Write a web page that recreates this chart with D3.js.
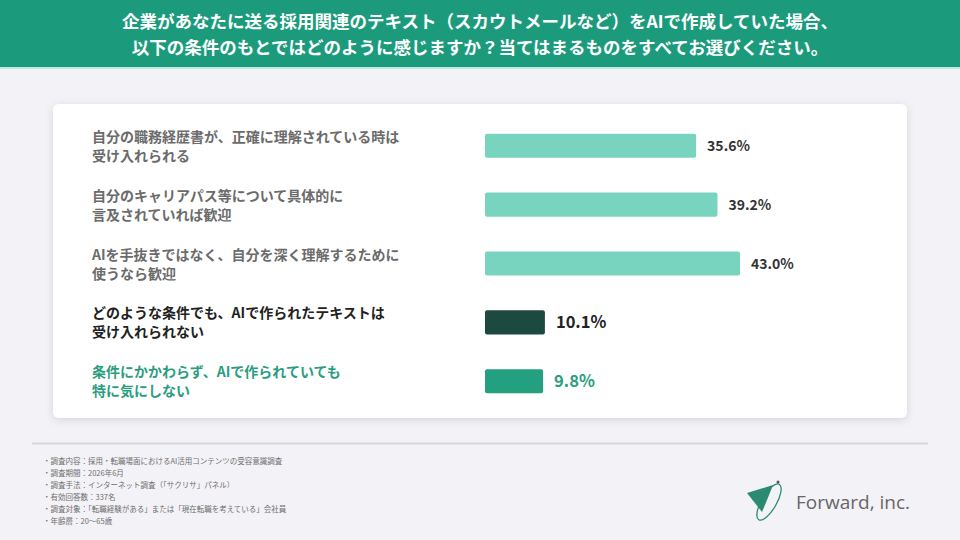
<!DOCTYPE html>
<html>
<head>
<meta charset="utf-8">
<script src="https://cdn.jsdelivr.net/npm/d3@7"></script>
<style>
  body { margin: 0; background: #f3f2f6; }
  svg { display: block; font-family: "Noto Sans CJK JP", "Noto Sans", sans-serif; }
</style>
</head>
<body>
<div id="chart"></div>
<script>
// data
const categories = [
  ["自分の職務経歴書が、正確に理解されている時は", "受け入れられる"],
  ["自分のキャリアパス等について具体的に", "言及されていれば歓迎"],
  ["AIを手抜きではなく、自分を深く理解するために", "使うなら歓迎"],
  ["どのような条件でも、AIで作られたテキストは", "受け入れられない"],
  ["条件にかかわらず、AIで作られていても", "特に気にしない"]
];
const values = [35.6, 39.2, 43.0, 10.1, 9.8];
const titleLines = [
  "企業があなたに送る採用関連のテキスト（スカウトメールなど）をAIで作成していた場合、",
  "以下の条件のもとではどのように感じますか？当てはまるものをすべてお選びください。"
];
const notes = [
  "・調査内容：採用・転職場面におけるAI活用コンテンツの受容意識調査",
  "・調査期間：2026年6月",
  "・調査手法：インターネット調査（「サクリサ」パネル）",
  "・有効回答数：337名",
  "・調査対象：「転職経験がある」または「現在転職を考えている」会社員",
  "・年齢層：20〜65歳"
];

const width = 960, height = 540;
const barColors = ["#78d3bf", "#78d3bf", "#78d3bf", "#1c4a40", "#22a07f"];
const labelColors = ["#6b6b6b", "#6b6b6b", "#6b6b6b", "#222222", "#2a9d80"];
const valueColors = ["#333333", "#333333", "#333333", "#222222", "#2a9d80"];

const svg = d3.select("#chart").append("svg")
  .attr("width", width)
  .attr("height", height);

const defs = svg.append("defs");
const f = defs.append("filter").attr("id", "shadow")
  .attr("x", "-5%").attr("y", "-10%").attr("width", "110%").attr("height", "125%");
f.append("feDropShadow").attr("dx", 0).attr("dy", 2).attr("stdDeviation", 4)
  .attr("flood-color", "#000").attr("flood-opacity", 0.12);

// header band
svg.append("rect").attr("x", 0).attr("y", 0).attr("width", width).attr("height", 67)
  .attr("fill", "#1c9b7c");
svg.append("rect").attr("x", 0).attr("y", 67).attr("width", width).attr("height", 2)
  .attr("fill", "#b8ede0");

svg.append("g").selectAll("text")
  .data(titleLines)
  .join("text")
  .attr("x", width / 2)
  .attr("y", (d, i) => 28 + i * 26)
  .attr("text-anchor", "middle")
  .attr("fill", "#fff")
  .attr("font-size", 17.5)
  .attr("font-weight", 700)
  .text(d => d);

// card
svg.append("rect")
  .attr("x", 53).attr("y", 104).attr("width", 854).attr("height", 314)
  .attr("rx", 6)
  .attr("fill", "#fff")
  .attr("filter", "url(#shadow)");

// scales
const x = d3.scaleLinear().domain([0, 43]).range([485, 740]);
const y = d3.scaleBand()
  .domain(d3.range(values.length))
  .range([116, 411])
  .paddingInner(0.59)
  .paddingOuter(0.3);

const rows = svg.append("g").selectAll("g")
  .data(values)
  .join("g");

rows.append("rect")
  .attr("x", x(0))
  .attr("y", (d, i) => y(i))
  .attr("width", d => x(d) - x(0))
  .attr("height", y.bandwidth())
  .attr("rx", 2)
  .attr("fill", (d, i) => barColors[i]);

rows.append("text")
  .attr("x", d => x(d) + 11)
  .attr("y", (d, i) => y(i) + y.bandwidth() / 2)
  .attr("dy", "0.36em")
  .attr("font-size", (d, i) => i > 2 ? 16.5 : 14)
  .attr("font-weight", 700)
  .attr("fill", (d, i) => valueColors[i])
  .text(d => d.toFixed(1) + "%");

const lbl = rows.append("text")
  .attr("x", 92)
  .attr("font-size", 14)
  .attr("font-weight", 700)
  .attr("fill", (d, i) => labelColors[i]);
lbl.selectAll("tspan")
  .data((d, i) => categories[i].map(t => ({ t, i })))
  .join("tspan")
  .attr("x", 92)
  .attr("y", (d, j) => y(d.i) + y.bandwidth() / 2 - 9 + j * 19)
  .attr("dy", "0.36em")
  .text(d => d.t);

// separator + notes
svg.append("line")
  .attr("x1", 32).attr("x2", 928).attr("y1", 443.5).attr("y2", 443.5)
  .attr("stroke", "#d6d6db").attr("stroke-width", 2);

svg.append("g").selectAll("text")
  .data(notes)
  .join("text")
  .attr("x", 43)
  .attr("y", (d, i) => 464 + i * 12)
  .attr("font-size", 7.5)
  .attr("fill", "#6e6e6e")
  .text(d => d);

// logo
const logo = svg.append("g");
logo.append("path")
  .attr("d", "M747,493 L773,485 L767,500 L762,512 Z")
  .attr("fill", "#2a8a72");
logo.append("ellipse")
  .attr("cx", 769).attr("cy", 502).attr("rx", 7.5).attr("ry", 20.5)
  .attr("transform", "rotate(30,769,502)")
  .attr("fill", "none").attr("stroke", "#2a8a72").attr("stroke-width", 1.3);
logo.append("circle").attr("cx", 778).attr("cy", 482).attr("r", 1.5).attr("fill", "#555");
logo.append("text")
  .attr("x", 796).attr("y", 509)
  .attr("font-family", "'Open Sans', Lato, sans-serif")
  .attr("font-size", 19)
  .attr("fill", "#666")
  .text("Forward, inc.");
</script>
</body>
</html>
